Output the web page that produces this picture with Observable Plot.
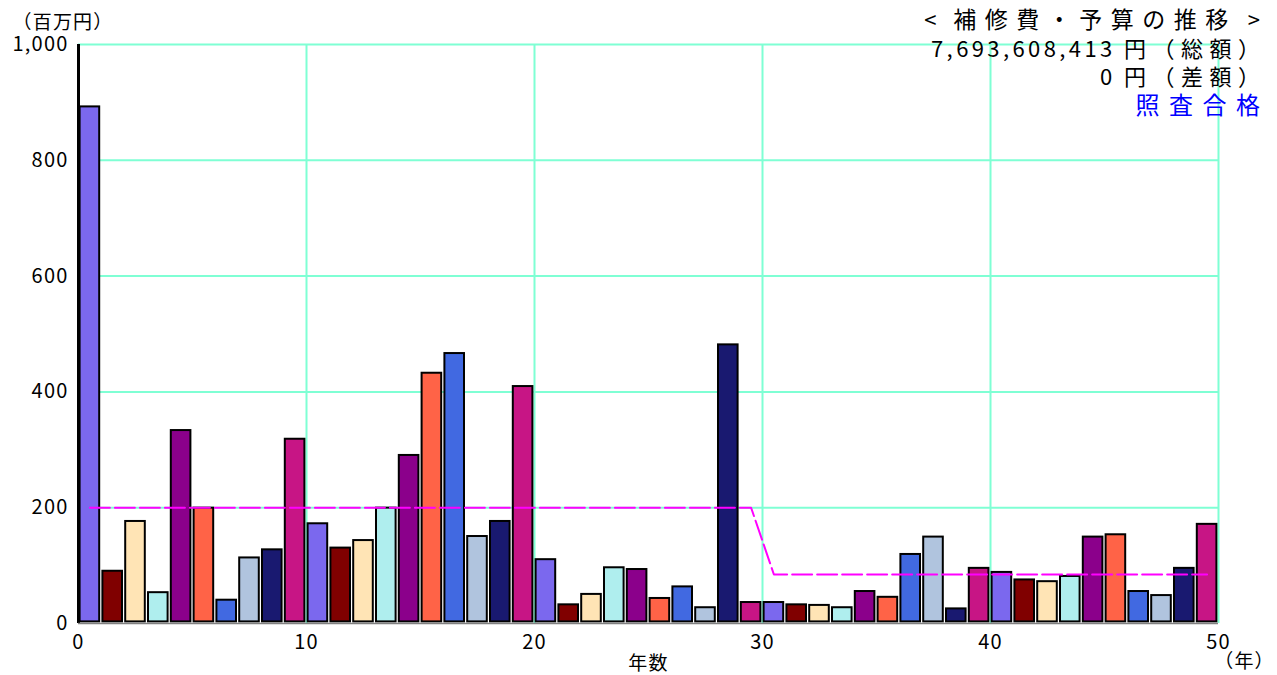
<!DOCTYPE html>
<html><head><meta charset="utf-8">
<script src="https://cdn.jsdelivr.net/npm/d3@7"></script>
<script src="https://cdn.jsdelivr.net/npm/@observablehq/plot@0.6"></script>
<style>
body{margin:0;background:#fff;}
#chart{position:relative;width:1277px;height:675px;}
#title{position:absolute;right:17px;top:4px;text-align:right;font-family:'Noto Sans CJK JP',sans-serif;font-size:22px;line-height:28.5px;color:#000;}
#title div{white-space:nowrap;}
#title .n{letter-spacing:3.4px;}
#title .w{letter-spacing:6.5px;}
#title .t .w{font-size:23px;letter-spacing:8.5px;}
#title .t .n{letter-spacing:6px;}
#title .ok{color:#0000ff;font-size:24px;}
#title .ok .w{letter-spacing:9.5px;}
#title .last{margin-right:-6.5px;}
#title .t .last{margin-right:-6px;}
#title .ok .last{margin-right:-9.5px;}
</style>
</head><body><div id="chart"><div id="title"></div></div>
<script>
const years = [0,1,2,3,4,5,6,7,8,9,10,11,12,13,14,15,16,17,18,19,20,21,22,23,24,25,26,27,28,29,30,31,32,33,34,35,36,37,38,39,40,41,42,43,44,45,46,47,48,49];
const costs = [895,93,179,56,336,202,43,116,130,321,
               175,133,146,202,293,435,469,153,179,412,
               113,35,53,99,96,46,66,30,484,39,
               39,35,34,30,58,48,122,152,28,98,
               91,78,75,84,152,156,58,51,98,174];
const budget = [200,200,200,200,200,200,200,200,200,200,
                200,200,200,200,200,200,200,200,200,200,
                200,200,200,200,200,200,200,200,200,200,
                84.68,84.68,84.68,84.68,84.68,84.68,84.68,84.68,84.68,84.68,
                84.68,84.68,84.68,84.68,84.68,84.68,84.68,84.68,84.68,84.68];
const palette = ["#7B68EE","#800000","#FFE4B5","#AFEEEE","#8B008B","#FF6347","#4169E1","#B0C4DE","#191970","#C71585"];
const yTicks = [0,200,400,600,800,1000];
const xTicks = [0,10,20,30,40,50];
const titleLines = ["< 補修費・予算の推移 >","7,693,608,413 円（総額）","0 円（差額）"];
const statusText = "照査合格";
const yUnit = "（百万円）";
const xLabel = "年数";
const xUnit = "（年）";

const bars = years.map((y,i)=>({year:y, cost:costs[i], color:palette[i % palette.length]}));
const budgetPts = years.map((y,i)=>({x:y+0.5, v:budget[i]}));

const font = "'Noto Sans CJK JP', sans-serif";
const plot = Plot.plot({
  width:1277, height:675,
  marginLeft:78, marginRight:59, marginTop:44, marginBottom:52,
  style:{fontFamily:font, fontSize:"20px", color:"#000", background:"#fff", overflow:"visible", letterSpacing:"1.2px"},
  color:{type:"identity"},
  x:{domain:[0,50], ticks:xTicks, tickSize:0, tickPadding:11, label:null},
  y:{domain:[0,1000], ticks:yTicks, tickSize:0, tickPadding:10, tickFormat:d3.format(","), label:null},
  marks:[
    Plot.ruleX(xTicks.slice(1), {stroke:"#7FFFD4", strokeWidth:2}),
    Plot.ruleY(yTicks.slice(1), {stroke:"#7FFFD4", strokeWidth:2}),
    Plot.rectY(bars, {x1:"year", x2:d=>d.year+1, y:"cost", fill:"color", stroke:"#000", strokeWidth:2, inset:1.6}),
    Plot.line(budgetPts, {x:"x", y:"v", stroke:"#FF00FF", strokeWidth:2, strokeDasharray:"20,5"}),
    Plot.ruleX([0], {stroke:"#000", strokeWidth:3}),
    Plot.ruleY([0], {stroke:"#808080", strokeWidth:1.5}),
    Plot.text([yUnit], {frameAnchor:"top-left", textAnchor:"start", dx:-66, dy:-29, fontSize:19}),
    Plot.text([xLabel], {frameAnchor:"bottom", textAnchor:"middle", dy:46, fontSize:19}),
    Plot.text([xUnit], {frameAnchor:"bottom-right", textAnchor:"middle", dx:26, dy:44, fontSize:19})
  ]
});
document.getElementById("chart").prepend(plot);

const t = document.getElementById("title");
function addLine(s, cls){
  const d = document.createElement("div");
  if (cls) d.className = cls;
  const parts = s.match(/[\u3000-\u9fff\uff00-\uffef・]+|[^\u3000-\u9fff\uff00-\uffef・]+/g);
  parts.forEach((p, i)=>{
    const sp = document.createElement("span");
    sp.className = /[\u3000-\u9fff\uff00-\uffef・]/.test(p) ? "w" : "n";
    if (i === parts.length - 1) sp.className += " last";
    sp.textContent = p;
    d.appendChild(sp);
  });
  t.appendChild(d);
}
addLine(titleLines[0], "t");
addLine(titleLines[1]);
addLine(titleLines[2]);
addLine(statusText, "ok");
</script>
</body></html>
